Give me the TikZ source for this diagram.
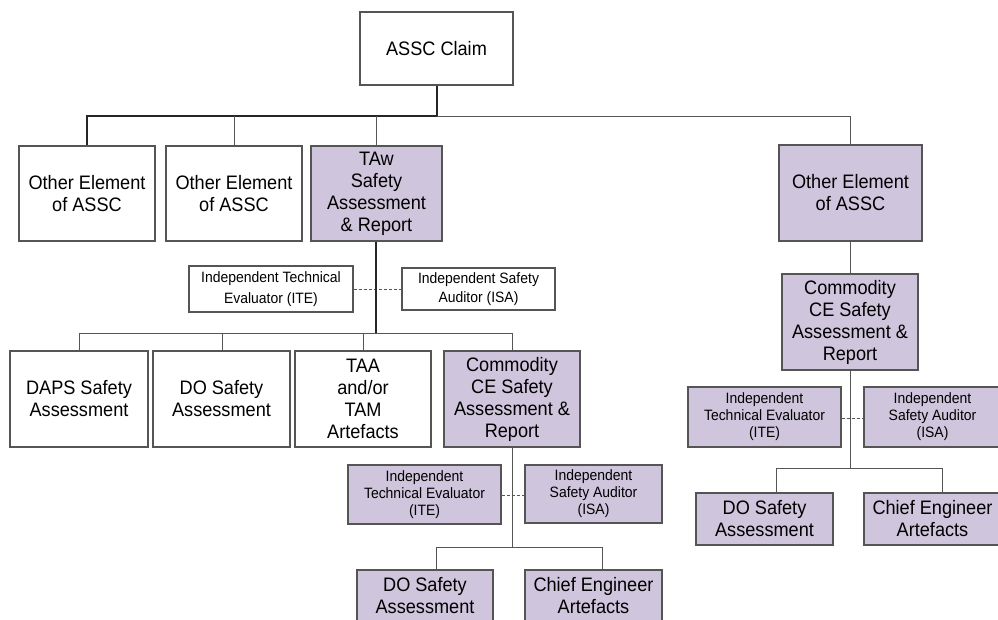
\documentclass[tikz,border=0pt]{standalone}
\usepackage{fontspec}
\setmainfont{Liberation Sans}[FakeStretch=0.93]
\definecolor{lav}{HTML}{CFC5DC}
\definecolor{edge}{HTML}{555555}
\definecolor{spine}{HTML}{262626}
\begin{document}
\begin{tikzpicture}[x=1pt,y=-1pt,
  box/.style={draw=edge,line width=1.1pt,fill=white,inner sep=0pt,align=center,
    font=\fontsize{19.5}{22}\selectfont},
  fbox/.style={box,fill=lav},
  small/.style={font=\fontsize{15}{17}\selectfont},
  link/.style={draw=edge,line width=1pt},
  mainline/.style={draw=spine,line width=1.3pt},
  dashlink/.style={draw=edge,line width=0.9pt,dash pattern=on 3pt off 2pt}]
\useasboundingbox (0,0) rectangle (998,619);
\clip (0,0) rectangle (998,619);
% top
\node[box,minimum width=153pt,minimum height=73pt] (claim) at (436.5,48.5) {ASSC Claim};
\node[box,minimum width=136pt,minimum height=95pt] (o1) at (87,193.5) {Other Element\\of ASSC};
\node[box,minimum width=136pt,minimum height=95pt] (o2) at (234,193.5) {Other Element\\of ASSC};
\node[fbox,minimum width=131pt,minimum height=95pt] (taw) at (376.5,193.5) {TAw\\Safety\\Assessment\\\& Report};
\node[fbox,minimum width=143pt,minimum height=96pt] (oR) at (850.5,193) {Other Element\\of ASSC};
\coordinate (b1) at (437,116);
\draw[mainline] (claim.south -| b1) -- (b1);
\draw[mainline] (b1) -- (87,116) coordinate (b1l) -- (o1.north -| b1l);
\draw[link] (b1) -- (850,116) coordinate (b1r) -- (oR.north -| b1r);
\draw[link] (234,116) coordinate (b1a) -- (o2.north -| b1a);
\draw[link] (376,116) coordinate (b1b) -- (taw.north -| b1b);
% TAw evaluators
\node[box,font=\fontsize{15}{21}\selectfont,minimum width=164pt,minimum height=46pt] (ite1) at (271,289) {Independent Technical\\Evaluator (ITE)};
\node[box,font=\fontsize{15}{19}\selectfont,minimum width=153pt,minimum height=42pt] (isa1) at (478.5,289) {Independent Safety\\Auditor (ISA)};
\draw[dashlink] (ite1.east) -- (isa1.west);
% second row
\node[box,minimum width=138pt,minimum height=96pt] (daps) at (79,399) {DAPS Safety\\Assessment};
\node[box,minimum width=137pt,minimum height=96pt] (do1) at (221.5,399) {DO Safety\\Assessment};
\node[box,minimum width=136pt,minimum height=96pt] (taa) at (363,399) {TAA\\and/or\\TAM\\Artefacts};
\node[fbox,minimum width=136pt,minimum height=96pt] (comm1) at (512,399) {Commodity\\CE Safety\\Assessment \&\\Report};
\coordinate (b2) at (376,333);
\draw[mainline] (taw.south -| b2) -- (b2);
\draw[link] (79,333) coordinate (b2l) -- (512,333) coordinate (b2r);
\draw[link] (b2l) -- (daps.north -| b2l);
\draw[link] (222,333) coordinate (b2a) -- (do1.north -| b2a);
\draw[link] (363,333) coordinate (b2b) -- (taa.north -| b2b);
\draw[link] (b2r) -- (comm1.north -| b2r);
% commodity 1 evaluators
\node[fbox,small,minimum width=153pt,minimum height=59pt] (ite2) at (424.5,494.5) {Independent\\Technical Evaluator\\(ITE)};
\node[fbox,small,minimum width=137pt,minimum height=58pt] (isa2) at (593.5,494) {Independent\\Safety Auditor\\(ISA)};
\draw[dashlink] (ite2.east |- 0,495) -- (isa2.west |- 0,495);
\coordinate (b3) at (512,547);
\draw[link] (comm1.south -| b3) -- (b3);
\node[fbox,minimum width=136pt,minimum height=52pt] (do2) at (425,596) {DO Safety\\Assessment};
\node[fbox,minimum width=137pt,minimum height=52pt] (chief2) at (593.5,596) {Chief Engineer\\Artefacts};
\draw[link] (436,547) coordinate (b3l) -- (602,547) coordinate (b3r);
\draw[link] (b3l) -- (do2.north -| b3l);
\draw[link] (b3r) -- (chief2.north -| b3r);
% right branch
\node[fbox,minimum width=136pt,minimum height=96pt] (commR) at (850,322) {Commodity\\CE Safety\\Assessment \&\\Report};
\draw[link] (oR.south -| b1r) -- (commR.north -| b1r);
\node[fbox,small,minimum width=153pt,minimum height=60pt] (ite3) at (764.5,417) {Independent\\Technical Evaluator\\(ITE)};
\node[fbox,small,minimum width=137pt,minimum height=60pt] (isa3) at (932.5,417) {Independent\\Safety Auditor\\(ISA)};
\draw[dashlink] (ite3.east |- 0,418) -- (isa3.west |- 0,418);
\coordinate (b4) at (850,468);
\draw[link] (commR.south -| b4) -- (b4);
\node[fbox,minimum width=137pt,minimum height=52pt] (do3) at (764.5,519) {DO Safety\\Assessment};
\node[fbox,minimum width=137pt,minimum height=52pt] (chief3) at (932.5,519) {Chief Engineer\\Artefacts};
\draw[link] (776,468) coordinate (b4l) -- (942,468) coordinate (b4r);
\draw[link] (b4l) -- (do3.north -| b4l);
\draw[link] (b4r) -- (chief3.north -| b4r);
\end{tikzpicture}
\end{document}
